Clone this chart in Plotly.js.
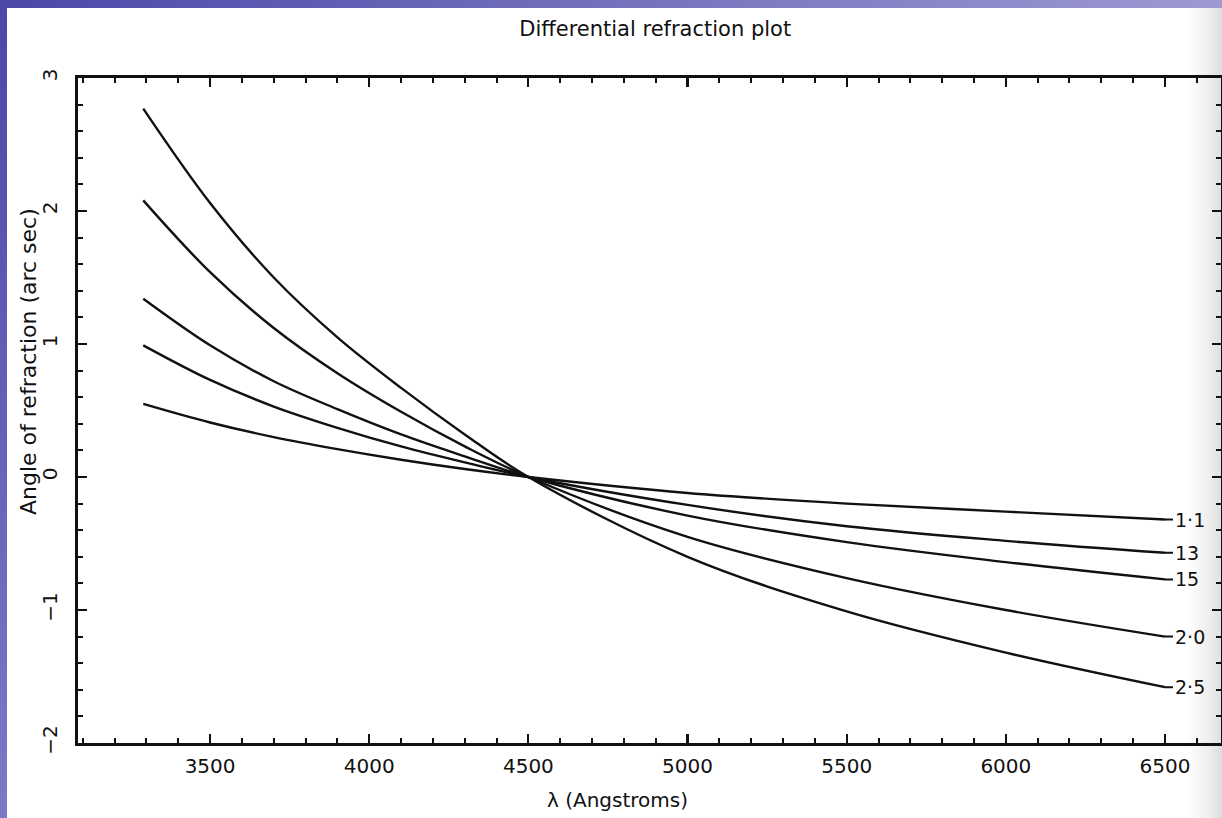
<!DOCTYPE html>
<html><head><meta charset="utf-8">
<script src="https://cdn.plot.ly/plotly-3.0.1.min.js"></script>
<style>
html,body{margin:0;padding:0;width:1222px;height:818px;overflow:hidden;}
body{position:relative;background:linear-gradient(to right,#ffffff 0px,#ffffff 1188px,#ededed 1210px,#dddddd 1222px);}
#topbar{position:absolute;left:0;top:0;width:1222px;height:8px;background:linear-gradient(to right,#4a48a8,#9d9ad2);z-index:2;}
#leftbar{position:absolute;left:0;top:0;width:7px;height:818px;background:linear-gradient(to bottom,#4a48a8,#7c7ac6);z-index:2;}
#chart{position:absolute;left:7px;top:8px;width:1215px;height:810px;}
</style></head>
<body><div id="topbar"></div><div id="leftbar"></div><div id="chart"></div>
<script>
// wavelength (Angstroms)
const wavelengths = [3290, 3500, 3700, 3900, 4100, 4300, 4500, 5000, 5500, 6000, 6500];
// airmass labels as printed on the plot
const airmassLabels = ["1·1", "13", "15", "2·0", "2·5"];
// differential refraction (arc sec) relative to 4500 A, one array per airmass
const am11 = [0.55, 0.41, 0.30, 0.21, 0.13, 0.06, 0, -0.12, -0.20, -0.26, -0.32];
const am13 = [0.99, 0.73, 0.53, 0.37, 0.23, 0.11, 0, -0.21, -0.37, -0.48, -0.57];
const am15 = [1.34, 0.99, 0.72, 0.51, 0.32, 0.155, 0, -0.29, -0.49, -0.64, -0.77];
const am20 = [2.08, 1.54, 1.12, 0.78, 0.49, 0.23, 0, -0.45, -0.76, -1.00, -1.20];
const am25 = [2.77, 2.06, 1.50, 1.05, 0.67, 0.32, 0, -0.60, -1.01, -1.32, -1.58];
const seriesValues = [am11, am13, am15, am20, am25];

const FONT = "DejaVu Sans, Liberation Sans, sans-serif";
const INK = "#111111";

const traces = seriesValues.map((vals, i) => ({
  type: "scatter",
  mode: "lines",
  name: airmassLabels[i],
  x: wavelengths,
  y: vals,
  line: {color: INK, width: 2.4, shape: "spline", smoothing: 1},
  hoverinfo: "x+y+name"
}));

const lastX = wavelengths[wavelengths.length - 1];
const labelAnnotations = seriesValues.map((vals, i) => ({
  xref: "x", yref: "y",
  x: lastX, y: vals[vals.length - 1],
  text: airmassLabels[i],
  showarrow: true, arrowhead: 0, arrowwidth: 2, arrowcolor: INK,
  ax: 8, ay: 0, xanchor: "left", yanchor: "middle",
  font: {family: FONT, size: 19, color: INK}
}));

const axisCommon = {
  showgrid: false, zeroline: false,
  showline: true, linecolor: INK, linewidth: 2.6,
  mirror: "allticks",
  ticks: "inside", ticklen: 9, tickwidth: 2.2, tickcolor: INK,
  tickfont: {family: FONT, size: 20, color: INK}
};

const layout = {
  width: 1215, height: 810,
  paper_bgcolor: "rgba(0,0,0,0)",
  plot_bgcolor: "rgba(0,0,0,0)",
  showlegend: false,
  margin: {l: 71, r: 1, t: 70, b: 75},
  title: {
    text: "Differential refraction plot",
    font: {family: FONT, size: 21, color: INK},
    x: 0.505, xanchor: "center", xref: "paper",
    y: 1 - 21 / 810, yanchor: "middle", yref: "container"
  },
  xaxis: Object.assign({}, axisCommon, {
    range: [3085, 6676],
    tick0: 3500, dtick: 500,
    ticklabelstandoff: 3,
    minor: {dtick: 100, ticks: "inside", ticklen: 5, tickwidth: 2, tickcolor: INK, showgrid: false}
  }),
  yaxis: Object.assign({}, axisCommon, {
    range: [-2, 3],
    tick0: 0, dtick: 1,
    tickangle: -90,
    ticklabelstandoff: 10,
    minor: {dtick: 0.2, ticks: "inside", ticklen: 5, tickwidth: 2, tickcolor: INK, showgrid: false}
  }),
  annotations: labelAnnotations.concat([
    {
      xref: "paper", yref: "paper",
      x: (617 - 78) / 1143, y: 0, yshift: -57,
      xanchor: "center", yanchor: "middle",
      text: "λ (Angstroms)", showarrow: false,
      font: {family: FONT, size: 20, color: INK}
    },
    {
      xref: "paper", yref: "paper",
      x: 0, xshift: -50, y: (743 - 362) / 665,
      xanchor: "center", yanchor: "middle",
      textangle: -90,
      text: "Angle of refraction (arc sec)", showarrow: false,
      font: {family: FONT, size: 22, color: INK}
    }
  ])
};

Plotly.newPlot("chart", traces, layout, {displayModeBar: false, staticPlot: true});
</script>
</body></html>
